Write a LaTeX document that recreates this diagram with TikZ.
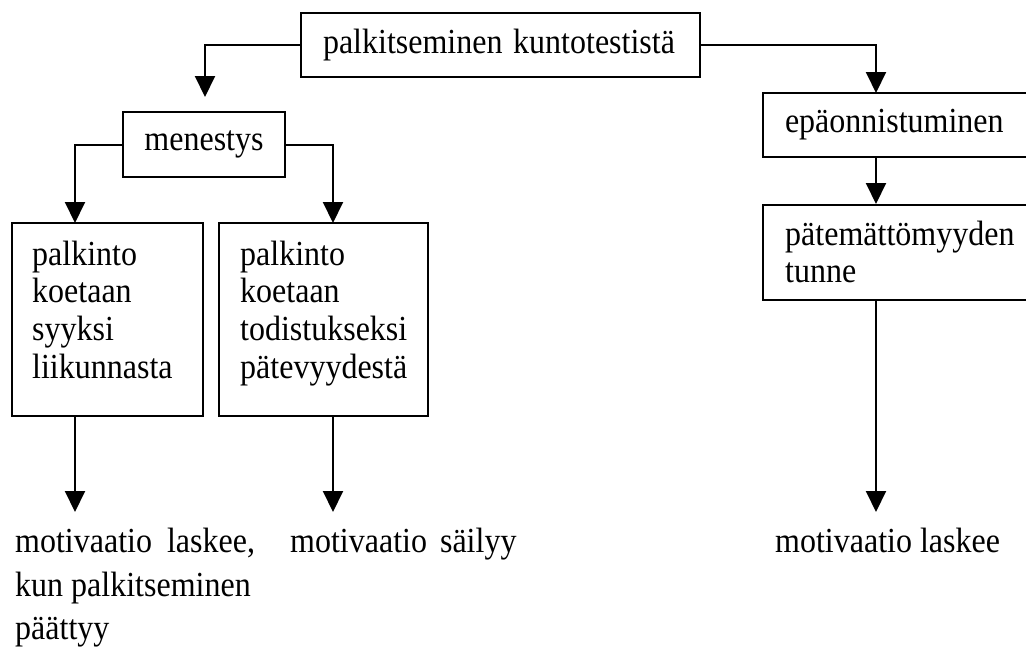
\documentclass[tikz,border=0pt]{standalone}
\usepackage{fontspec}
\usepackage{graphicx}
\setmainfont{Liberation Serif}
\usetikzlibrary{arrows.meta}
% glyphs a little taller than wide, as in the printed chart
\newcommand\tallt[1]{\scalebox{1}[1.1]{#1}}
\newcommand\boxlines[2]{\tallt{\parbox[t]{#1}{\raggedright\fontsize{32}{34.3}\selectfont #2}}}
\tikzset{
  box/.style={draw, line width=2pt, rectangle, inner sep=0pt,
    font=\fontsize{32}{38}\selectfont},
  conn/.style={line width=2pt, -{Triangle[length=21pt,width=20pt]}},
  txt/.style={inner sep=0pt, font=\fontsize{32}{38}\selectfont, anchor=base west}
}
\begin{document}
\begin{tikzpicture}[x=1pt,y=-1pt]
\path[use as bounding box, clip] (0,0) rectangle (1026,670);

% boxes
\node[box, minimum width=399pt, minimum height=64pt, text width=355pt, align=left]
  (top) at (500.5,45) {\tallt{palkitseminen kuntotestistä}};
\node[box, minimum width=162pt, minimum height=65pt] (men) at (204,144.5) {\tallt{menestys}};
\node[box, minimum width=191pt, minimum height=193pt] (a) at (107.5,319.5) {};
\node[box, minimum width=209pt, minimum height=193pt] (b) at (323.5,319.5) {};
\node[box, minimum width=282pt, minimum height=64pt, text width=238pt, align=left]
  (fail) at (904,125) {\tallt{epäonnistuminen}};
\node[box, minimum width=282pt, minimum height=95pt] (feel) at (904,252.5) {};

% texts of the tall boxes
\node[txt] (a-txt) at (32,265) {\boxlines{165pt}{palkinto\\koetaan\\syyksi\\liikunnasta}};
\node[txt] (b-txt) at (240,265) {\boxlines{180pt}{palkinto\\koetaan\\todistukseksi\\pätevyydestä}};
\node[txt] (feel-txt) at (785,245) {\boxlines{235pt}{pätemättömyyden\\tunne}};

% arrow entry and end points
\coordinate (m-in) at (205,97);
\coordinate (fail-in) at (876,93);
\coordinate (a-in) at (75,223);
\coordinate (b-in) at (333,223);
\coordinate (a-out) at (75,512);
\coordinate (b-out) at (333,512);
\coordinate (f-out) at (876,512);

% connectors
\draw[conn] (top.west) -| (m-in);
\draw[conn] (top.east) -| (fail-in);
\draw[conn] (men.west) -| (a-in);
\draw[conn] (men.east) -| (b-in);
\draw[conn] (a-in |- a.south) -- (a-out);
\draw[conn] (b-in |- b.south) -- (b-out);
\draw[conn] (fail-in |- fail.south) -- (fail-in |- feel.north);
\draw[conn] (fail-in |- feel.south) -- (f-out);

% outcomes
\node[txt] (r1) at (15,552) {\tallt{motivaatio\hspace{15pt}laskee,}};
\node[txt] (r2) at (15,596) {\tallt{kun palkitseminen}};
\node[txt] (r3) at (15,639) {\tallt{päättyy}};
\node[txt] (s1) at (290,552) {\tallt{motivaatio\hspace{13pt}säilyy}};
\node[txt] (l1) at (775,552) {\tallt{motivaatio laskee}};
\end{tikzpicture}
\end{document}
